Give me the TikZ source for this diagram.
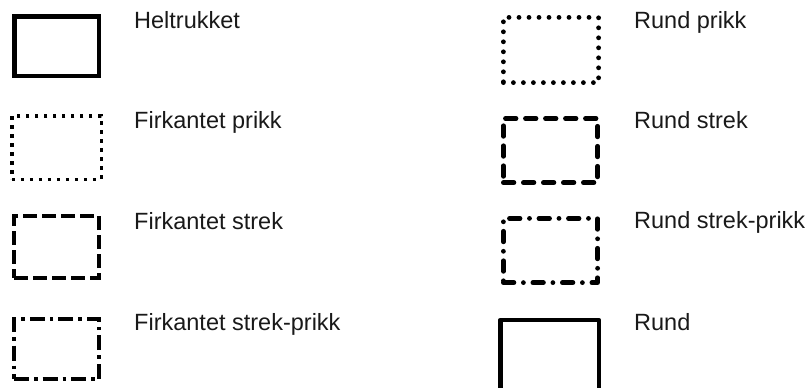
\documentclass[tikz,border=0pt]{standalone}
\usepackage{fontspec}
\setmainfont{Liberation Sans}
\usetikzlibrary{positioning}

\tikzset{
  sample/.style={draw=black, rectangle, inner sep=0pt, outer sep=0pt},
  heltrukket/.style={sample, line width=4.5pt, line join=miter, minimum width=84.5pt, minimum height=59.5pt},
  firkprikk/.style={sample, line width=3.5pt, line cap=butt, dash pattern=on 3.5pt off 5.5pt, minimum width=89.5pt, minimum height=63.5pt},
  firkstrek/.style={sample, line width=4pt, line cap=butt, dash pattern=on 14pt off 5pt, minimum width=85pt, minimum height=62pt},
  firkstrekprikk/.style={sample, line width=4pt, line cap=butt, dash pattern=on 15pt off 5pt on 3.5pt off 5pt, minimum width=85pt, minimum height=60pt},
  rundprikk/.style={sample, line width=4.8pt, line cap=round, line join=round, dash pattern=on 0pt off 10pt, minimum width=95.2pt, minimum height=65.2pt},
  rundstrek/.style={sample, line width=4.8pt, line cap=round, line join=round, dash pattern=on 10.5pt off 9.5pt, minimum width=94.2pt, minimum height=64.2pt},
  rundstrekprikk/.style={sample, line width=4.8pt, line cap=round, line join=round, dash pattern=on 10.5pt off 9.5pt on 0pt off 9.5pt, minimum width=94.2pt, minimum height=64.2pt},
  rund/.style={sample, line width=4.5pt, line join=round, minimum width=98.5pt, minimum height=80pt},
  navn/.style={anchor=base west, inner sep=0pt, font=\fontsize{23.5}{27}\selectfont, text=black!90}
}

\begin{document}
\begin{tikzpicture}[x=1pt, y=-1pt]

  \clip (0,0) rectangle (809,388);

  % Left column
  \node[heltrukket]     (helt)  at (56.5, 46)    {};
  \node[firkprikk]      (fprik) at (56.5, 147.5) {};
  \node[firkstrek]      (fstr)  at (56.5, 247)   {};
  \node[firkstrekprikk] (fsp)   at (56.5, 349)   {};

  % Right column
  \node[rundprikk]      (rprik) at (551, 50)     {};
  \node[rundstrek]      (rstr)  at (550.5, 150.5) {};
  \node[rundstrekprikk] (rsp)   at (550.5, 250.5) {};
  \node[rund]           (rund)  at (549.5, 360)  {};

  % Labels
  \node[navn] (lhelt)  at (134, 28)  {Heltrukket};
  \node[navn] (lfprik) at (134, 128) {Firkantet prikk};
  \node[navn] (lfstr)  at (134, 229) {Firkantet strek};
  \node[navn] (lfsp)   at (134, 330) {Firkantet strek-prikk};
  \node[navn] (lrprik) at (634, 28)  {Rund prikk};
  \node[navn] (lrstr)  at (634, 128) {Rund strek};
  \node[navn] (lrsp)   at (634, 228) {Rund strek-prikk};
  \node[navn] (lrund)  at (634, 330) {Rund};

\end{tikzpicture}
\end{document}
